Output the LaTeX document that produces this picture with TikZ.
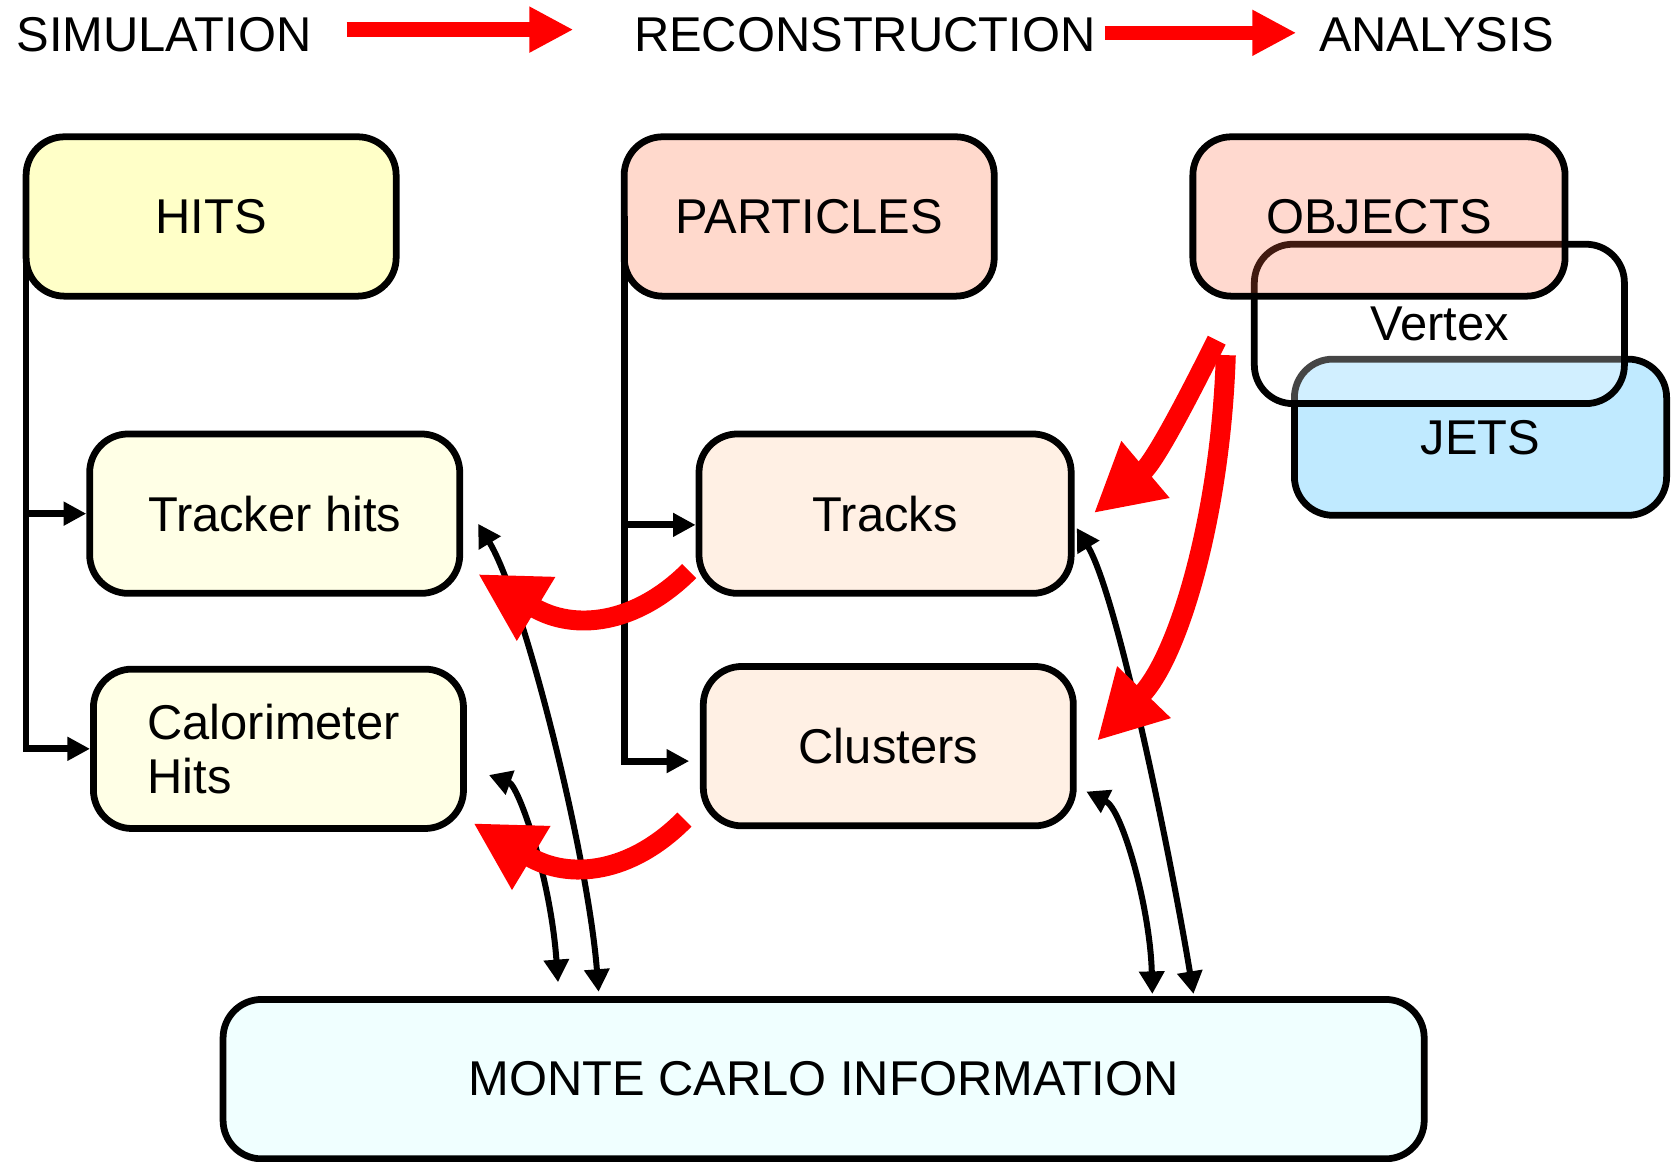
\documentclass[tikz,border=0pt]{standalone}
\usepackage{fontspec}
\setmainfont{Liberation Sans}
\usepackage{xcolor}
\usepackage{tikz}
\usetikzlibrary{arrows.meta}
\definecolor{hitsfill}{RGB}{255,255,200}
\definecolor{hitsubfill}{RGB}{255,255,230}
\definecolor{partfill}{RGB}{255,217,204}
\definecolor{partsubfill}{RGB}{255,240,228}
\definecolor{objfill}{RGB}{255,104,64}
\definecolor{jetfill}{RGB}{192,234,255}
\definecolor{mcfill}{RGB}{240,255,255}
\def\bigtxt{\fontsize{13}{14.5}\selectfont}

\begin{document}
\begin{tikzpicture}[x=0.01cm, y=-0.01cm,
    objbox/.style={draw, line width=1.8pt, rounded corners=0.36cm, minimum width=3.46cm, minimum height=1.49cm, inner sep=0pt, font=\bigtxt},
    treeline/.style={line width=1.8pt, -{Triangle[length=6pt,width=6pt]}},
    mclink/.style={line width=1.6pt, {Triangle[length=6pt,width=6.5pt]}-{Triangle[length=6pt,width=6.5pt]}},
    redarrow/.style={red, line width=5.3pt, -{Triangle[length=18pt,width=18.5pt]}},
    headarrow/.style={red, line width=3.8pt, -{Triangle[length=11.7pt,width=11.4pt]}},
    headtext/.style={inner sep=0pt, font=\bigtxt}]
          \useasboundingbox (0,0) rectangle (1566,1087);
          % stages
          \node[headtext] (sim) at (153.5,32.5) {SIMULATION};
          \node[headtext] (reco) at (809,32.5) {RECONSTRUCTION};
          \node[headtext] (ana) at (1344,32.5) {ANALYSIS};
          \draw[headarrow] ([shift={(32,-4.8)}]sim.east) -- ([shift={(-56,-4.8)}]reco.west);
          \draw[headarrow] ([shift={(8,-1.8)}]reco.east) -- ([shift={(-20.5,-1.8)}]ana.west);
          % top level boxes
          \node[objbox, fill=hitsfill] (hits) at (197.5,202.5) {HITS};
          \node[objbox, fill=partfill] (particles) at (757,202.5) {PARTICLES};
          \node[objbox, fill=jetfill, minimum width=3.48cm, minimum height=1.46cm] (jets) at (1385,409) {JETS};
          \node[objbox, fill=white, fill opacity=0.27, text opacity=1] (vertex) at (1346.5,303) {Vertex};
          \node[objbox, fill=objfill, fill opacity=0.25, text opacity=1, minimum width=3.48cm] (objects) at (1290,202.5) {OBJECTS};
          % second level boxes
          \node[objbox, fill=hitsubfill] (tracker) at (257,480.5) {Tracker hits};
          \node[objbox, fill=hitsubfill, text width=2.45cm, align=left] (calo) at (260.5,700.5) {Calorimeter\\Hits};
          \node[objbox, fill=partsubfill, minimum width=3.48cm] (tracks) at (828,480.5) {Tracks};
          \node[objbox, fill=partsubfill] (clusters) at (831,698) {Clusters};
          \node[objbox, fill=mcfill, minimum width=11.23cm] (mc) at (770.5,1009.5) {MONTE CARLO INFORMATION};
          % trees
          \coordinate (hitstrunk) at ([xshift=0.9pt]hits.west);
          \draw[treeline] (hitstrunk |- tracker.west) -- (tracker.west);
          \draw[treeline] (hitstrunk) |- (calo.west);
          \coordinate (parttrunk) at ([xshift=0.9pt]particles.west);
          \coordinate (tracksin) at ([shift={(0,10.5)}]tracks.west);
          \coordinate (clustersin) at ([shift={(-10,14)}]clusters.west);
          \draw[treeline] (parttrunk |- tracksin) -- (tracksin);
          \draw[treeline] (parttrunk) |- (clustersin);
          % links to the monte carlo truth
          \draw[mclink] ([shift={(14,9.5)}]tracker.east) .. controls (490,560) and (550,800) .. ([shift={(-210.5,-4)}]mc.north);
          \draw[mclink] ([shift={(20.6,24.5)}]calo.east) .. controls (485,735) and (515,820) .. ([shift={(-248.5,-13)}]mc.north);
          \draw[mclink] ([shift={(2,13.5)}]tracks.east) .. controls (1045,556) and (1095,800) .. ([shift={(346,-2)}]mc.north);
          \draw[mclink] ([shift={(9,42.5)}]clusters.east) .. controls (1050,757) and (1076,850) .. ([shift={(307.5,-2)}]mc.north);
          % built from
          \draw[redarrow] ([shift={(-6,-24)}]tracks.south west) .. controls (595,584) and (537,591) .. ([shift={(14,56.5)}]tracker.east);
          \draw[redarrow] ([shift={(-14.5,-9)}]clusters.south west) .. controls (590.5,817) and (532.5,824) .. ([shift={(6,69.5)}]calo.east);
          \draw[redarrow] ([shift={(25.5,38)}]objects.south west) .. controls (1110,375) and (1080,432) .. ([shift={(18,-0.5)}]tracks.east);
          \draw[redarrow] ([shift={(34,52)}]objects.south west) .. controls (1142,482) and (1102.5,614) .. ([shift={(19,-5)}]clusters.east);
        \end{tikzpicture}
\end{document}
